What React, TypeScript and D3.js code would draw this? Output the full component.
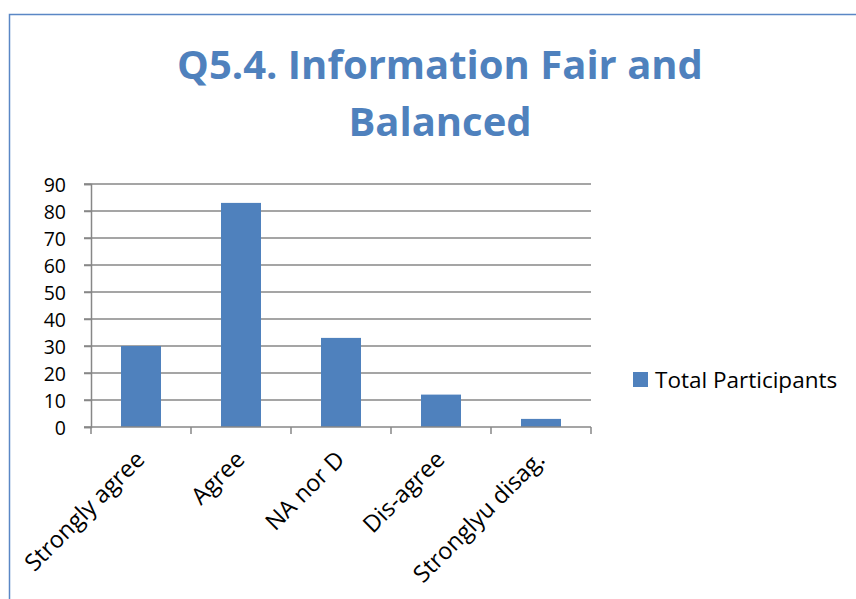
import React, { useEffect, useRef } from 'react'
import * as d3 from 'd3'

const categories = ['Strongly agree', 'Agree', 'NA nor D', 'Dis-agree', 'Stronglyu disag.']
const totalParticipants = [30, 83, 33, 12, 3]
const yTicks = [0, 10, 20, 30, 40, 50, 60, 70, 80, 90]
const titleLines = ['Q5.4. Information Fair and', 'Balanced']
const seriesName = 'Total Participants'

const W = 856
const H = 599
const FONT = '"Open Sans", "DejaVu Sans", sans-serif'
const BLUE = '#4F81BD'
const GRID = '#878787'

const App = () => {
  const ref = useRef<SVGSVGElement | null>(null)

  useEffect(() => {
    document.body.style.margin = '0'
    const svg = d3.select(ref.current)
    svg.selectAll('*').remove()

    const left = 91
    const right = 591
    const top = 184
    const bottom = 427

    const x = d3.scaleBand<string>().domain(categories).range([left, right]).paddingInner(0.6).paddingOuter(0.3)
    const xOuter = d3.scaleBand<string>().domain(categories).range([left, right])
    const y = d3.scaleLinear().domain([0, 90]).range([bottom, top])

    // frame
    svg.append('rect')
      .attr('x', 9.5).attr('y', 14.5)
      .attr('width', W).attr('height', H)
      .attr('fill', 'white')
      .attr('stroke', '#5A87C5').attr('stroke-width', 1.5)

    // title
    const title = svg.append('text')
      .attr('text-anchor', 'middle')
      .attr('font-family', FONT)
      .attr('font-weight', 'bold')
      .attr('font-size', 40)
      .attr('fill', BLUE)
    titleLines.forEach((t, i) => {
      title.append('tspan').attr('x', 440).attr('y', 79 + i * 57).text(t)
    })

    // gridlines
    svg.append('g').selectAll('line')
      .data(yTicks.filter((d) => d > 0))
      .enter()
      .append('line')
      .attr('x1', left - 7).attr('x2', right)
      .attr('y1', (d) => y(d)).attr('y2', (d) => y(d))
      .attr('stroke', GRID).attr('stroke-width', 1.5)

    // bars
    svg.append('g').selectAll('rect')
      .data(totalParticipants)
      .enter()
      .append('rect')
      .attr('x', (d, i) => x(categories[i]) as number)
      .attr('width', x.bandwidth())
      .attr('y', (d) => y(d))
      .attr('height', (d) => bottom - y(d))
      .attr('fill', BLUE)

    // y axis
    const yAxis = svg.append('g')
      .attr('transform', `translate(${left},0)`)
      .call(d3.axisLeft(y).tickValues(yTicks).tickSize(7).tickPadding(18).tickFormat(d3.format('d')))
    yAxis.select('.domain').attr('stroke', GRID).attr('stroke-width', 1.5)
    yAxis.selectAll('.tick line').attr('stroke', GRID).attr('stroke-width', 1.5)
    yAxis.selectAll('.tick text')
      .attr('font-family', FONT).attr('font-size', 19.5).attr('fill', '#000')
      .attr('dy', '0.36em')

    // x axis
    const xAxis = svg.append('g')
      .attr('transform', `translate(0,${bottom})`)
    xAxis.append('line')
      .attr('x1', left - 7).attr('x2', right)
      .attr('y1', 0).attr('y2', 0)
      .attr('stroke', GRID).attr('stroke-width', 1.5)
    const bounds = categories.map((c) => xOuter(c) as number).concat([right])
    xAxis.selectAll('line.tk')
      .data(bounds)
      .enter()
      .append('line')
      .attr('class', 'tk')
      .attr('x1', (d) => d).attr('x2', (d) => d)
      .attr('y1', 0).attr('y2', 7)
      .attr('stroke', GRID).attr('stroke-width', 1.5)
    xAxis.selectAll('text')
      .data(categories)
      .enter()
      .append('text')
      .attr('transform', (d) => `translate(${(xOuter(d) as number) + xOuter.bandwidth() / 2 + 5},${34}) rotate(-45)`)
      .attr('text-anchor', 'end')
      .attr('font-family', FONT)
      .attr('font-size', 23.5)
      .attr('fill', '#000')
      .text((d) => d)

    // legend
    const legend = svg.append('g').attr('transform', 'translate(633,372)')
    legend.append('rect').attr('width', 15).attr('height', 15).attr('fill', BLUE)
    legend.append('text')
      .attr('x', 22).attr('y', 15.5)
      .attr('font-family', FONT).attr('font-size', 22.5).attr('fill', '#000')
      .text(seriesName)
  }, [])

  return <svg ref={ref} width={W} height={H} style={{ display: 'block' }} />
}

export default App
